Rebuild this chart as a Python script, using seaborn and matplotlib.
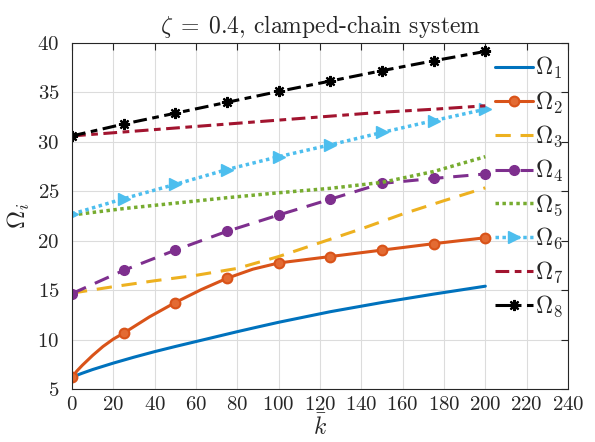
import matplotlib
matplotlib.use("Agg")
import matplotlib.pyplot as plt
import seaborn as sns
import pandas as pd
from matplotlib.ticker import FuncFormatter, MultipleLocator

# ---------------- data ----------------
k_markers = [0, 25, 50, 75, 100, 125, 150, 175, 200]

k1 = [0, 5, 10, 20, 30, 40, 50, 60, 70, 80, 90, 100, 125, 150, 175, 200]
omega1 = [6.2, 6.6, 6.97, 7.62, 8.22, 8.78, 9.3, 9.8, 10.3, 10.8, 11.28, 11.75,
          12.82, 13.75, 14.6, 15.4]

k2 = [0, 2.5, 5, 10, 15, 20, 25, 37.5, 50, 62.5, 75, 87.5, 100, 125, 150, 175, 200]
omega2 = [6.2, 6.85, 7.4, 8.4, 9.3, 10.05, 10.65, 12.3, 13.75, 15.05, 16.2, 17.12,
          17.75, 18.4, 19.05, 19.7, 20.3]

k3 = [0, 20, 40, 60, 80, 100, 120, 140, 160, 180, 200]
omega3 = [14.7, 15.35, 15.95, 16.5, 17.2, 18.4, 19.8, 21.2, 22.7, 24.05, 25.35]

omega4 = [14.65, 17.0, 19.05, 20.95, 22.6, 24.2, 25.8, 26.3, 26.75]
omega5 = [22.6, 23.25, 23.8, 24.35, 24.85, 25.3, 25.9, 27.0, 28.5]
omega6 = [22.7, 24.25, 25.7, 27.2, 28.5, 29.7, 30.95, 32.15, 33.3]
omega7 = [30.6, 31.0, 31.4, 31.8, 32.2, 32.6, 33.0, 33.3, 33.65]
omega8 = [30.6, 31.8, 32.9, 34.0, 35.1, 36.15, 37.2, 38.2, 39.15]

labels = [r"$\Omega_1$", r"$\Omega_2$", r"$\Omega_3$", r"$\Omega_4$",
          r"$\Omega_5$", r"$\Omega_6$", r"$\Omega_7$", r"$\Omega_8$"]
title_text = r"$\zeta\;=\;0.4$, clamped-chain system"
xlabel_text = r"$\bar{k}$"
ylabel_text = r"$\Omega_i$"

# ---------------- style ----------------
sns.set_theme(style="white")
plt.rcParams["mathtext.fontset"] = "cm"
plt.rcParams["font.family"] = ["cmr10", "DejaVu Serif"]
plt.rcParams["axes.formatter.use_mathtext"] = True

fig = plt.figure(figsize=(5.95, 4.42), dpi=100)
ax = fig.add_axes([72 / 595, 53 / 442, 496 / 595, 346 / 442])

series = [
    (k1, omega1, dict(color="#0072BD", linestyle="-", lw=2.2)),
    (k2, omega2, dict(color="#D95319", linestyle="-", lw=2.2, marker="o", ms=7,
                      mfc="#E36B33", mec="#D95319", mew=1.5)),
    (k3, omega3, dict(color="#EDB120", linestyle=(0, (5, 3.2)), lw=2.2)),
    (k_markers, omega4, dict(color="#7E2F8E", linestyle=(0, (5, 3.2)), lw=2.2,
                             marker="o", ms=7, mfc="#7E2F8E", mec="#7E2F8E", mew=1.0)),
    (k_markers, omega5, dict(color="#77AC30", linestyle=(0, (1, 1)), lw=2.5)),
    (k_markers, omega6, dict(color="#4DBEEE", linestyle=(0, (1, 1)), lw=2.5,
                             marker=">", ms=9, mfc="#4DBEEE", mec="#4DBEEE", mew=1.0)),
    (k_markers, omega7, dict(color="#A2142F", linestyle=(0, (4.5, 1.8, 2.2, 1.8)), lw=2.2)),
    (k_markers, omega8, dict(color="black", linestyle=(0, (4.5, 1.8, 2.2, 1.8)), lw=2.2,
                             marker=(8, 2, 0), ms=8, mec="black", mfc="black", mew=1.6)),
]

for (kk, vals, style), lab in zip(series, labels):
    df = pd.DataFrame({"k": kk, "omega": vals})
    extra = {}
    if "marker" in style:
        extra["markevery"] = [i for i, kv in enumerate(kk) if kv % 25 == 0]
    sns.lineplot(data=df, x="k", y="omega", ax=ax, label=lab, estimator=None,
                 sort=False, **style, **extra)

ax.set_xlim(0, 240)
ax.set_ylim(5, 40)
ax.xaxis.set_major_locator(MultipleLocator(20))
ax.yaxis.set_major_locator(MultipleLocator(5))
fmt = FuncFormatter(lambda v, p: f"${v:g}$")
ax.xaxis.set_major_formatter(fmt)
ax.yaxis.set_major_formatter(fmt)
ax.tick_params(direction="in", length=5, width=0.8, top=True, right=True,
               labelsize=15, colors="#262626")
ax.tick_params(axis="y", pad=9)
ax.tick_params(axis="x", pad=5)
ax.grid(True, color="#dcdcdc", lw=0.8)
ax.set_axisbelow(True)
for sp in ax.spines.values():
    sp.set_color("#262626")
    sp.set_linewidth(0.8)

ax.set_title(title_text, fontsize=17, pad=7, color="#262626")
ax.set_xlabel(xlabel_text, fontsize=17, labelpad=0, color="#262626")
ax.set_ylabel(ylabel_text, fontsize=18, labelpad=4, color="#262626")

leg = ax.legend(loc="upper left", bbox_to_anchor=(495 / 595, 1 - 55 / 442),
                bbox_transform=fig.transFigure, frameon=False, fontsize=17,
                handlelength=1.6, handletextpad=0.1, labelspacing=0.36,
                borderpad=0, borderaxespad=0)

fig.savefig("out.png", dpi=100)
